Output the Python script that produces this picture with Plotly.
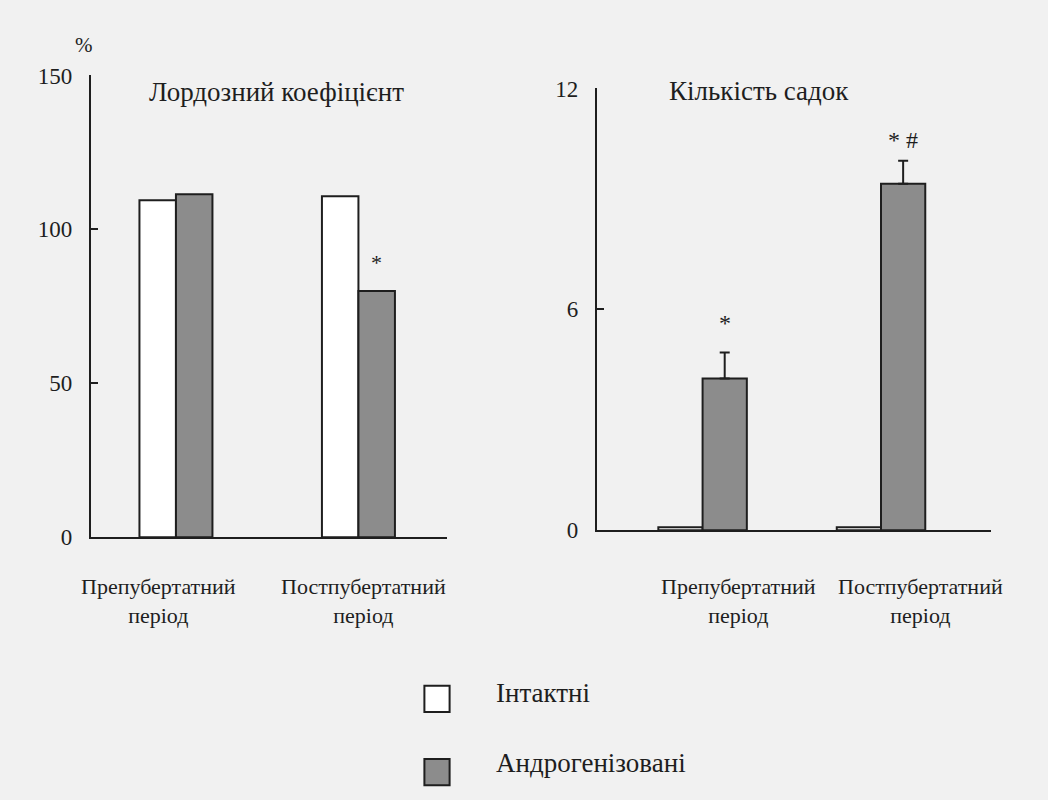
import plotly.graph_objects as go

# ---- data ----
periods = ["Препубертатний<br>період", "Постпубертатний<br>період"]
series_names = ["Інтактні", "Андрогенізовані"]

lordosis_intact = [109.5, 110.8]
lordosis_androgen = [111.4, 80.0]

mounts_intact = [0.08, 0.08]
mounts_androgen = [4.12, 9.41]
mounts_androgen_err = [0.71, 0.63]

left_title = "Лордозний коефіцієнт"
right_title = "Кількість садок"
left_ticks = [0, 50, 100, 150]
right_ticks = [0, 6, 12]
left_marks = ["", "*"]
right_marks = ["*", "* #"]

FONT = "Liberation Serif, Times New Roman, serif"
INK = "#1e1e1e"
GRAY = "#8c8c8c"
BG = "#f1f1f1"

W, H = 1048, 800


def px(x):
    return ((x + 1) / 0.992) / W


def py(y):
    return 1 - ((y - 13.8) / 0.965) / H


fig = go.Figure()

lw, rw = 0.2, 0.248
fig.add_trace(go.Bar(x=periods, y=lordosis_intact, name=series_names[0], width=lw, offset=-lw,
                     marker=dict(color="white", line=dict(color=INK, width=2)),
                     xaxis="x", yaxis="y", showlegend=False))
fig.add_trace(go.Bar(x=periods, y=lordosis_androgen, name=series_names[1], width=lw, offset=0,
                     marker=dict(color=GRAY, line=dict(color=INK, width=2)),
                     xaxis="x", yaxis="y", showlegend=False))
fig.add_trace(go.Bar(x=periods, y=mounts_intact, name=series_names[0], width=rw, offset=-rw,
                     marker=dict(color="white", line=dict(color=INK, width=2)),
                     xaxis="x2", yaxis="y2", showlegend=False))
fig.add_trace(go.Bar(x=periods, y=mounts_androgen, name=series_names[1], width=rw, offset=0,
                     marker=dict(color=GRAY, line=dict(color=INK, width=2)),
                     error_y=dict(type="data", array=mounts_androgen_err, symmetric=False,
                                  arrayminus=[0, 0], color=INK, thickness=2, width=5),
                     xaxis="x2", yaxis="y2", showlegend=False))

axis_common = dict(showline=True, linecolor=INK, linewidth=2, showgrid=False, zeroline=False)
yfont = dict(family=FONT, size=23, color=INK)
xfont = dict(family=FONT, size=22, color=INK)

fig.update_layout(
    width=W, height=H,
    margin=dict(l=0, r=0, t=0, b=0),
    paper_bgcolor=BG, plot_bgcolor="rgba(0,0,0,0)",
    barmode="overlay",
    font=dict(family=FONT, color=INK),
    xaxis=dict(domain=[px(89), px(442)], range=[-0.467, 1.483], anchor="y",
               ticks="", showticklabels=False, **axis_common),
    yaxis=dict(domain=[py(537), py(77)], range=[0, 150], anchor="x",
               tickvals=left_ticks, ticks="inside", ticklen=7, tickwidth=2, tickcolor=INK,
               ticklabelstandoff=12, tickfont=yfont, **axis_common),
    xaxis2=dict(domain=[px(591), px(982)], range=[-0.593, 1.616], anchor="y2",
                ticks="", showticklabels=False, **axis_common),
    yaxis2=dict(domain=[py(530), py(90)], range=[0, 12], anchor="x2",
                tickvals=right_ticks, ticks="inside", ticklen=7, tickwidth=2, tickcolor=INK,
                ticklabelstandoff=12, tickfont=yfont, **axis_common),
)

ann = []
# category labels (placed per panel, as in the original layout)
label_offsets = {"x": [-0.097, 0.03], "x2": [0.203, 0.22]}
for axname, offs in label_offsets.items():
    for i, (lab, o) in enumerate(zip(periods, offs)):
        ann.append(dict(text=lab, x=i + o, y=py(601), xref=axname, yref="paper",
                        xanchor="center", yanchor="middle", showarrow=False,
                        font=xfont))

ann.append(dict(text="%", x=px(82), y=py(47), xref="paper", yref="paper", showarrow=False,
                xanchor="center", yanchor="middle", font=dict(family=FONT, size=21, color=INK)))
ann.append(dict(text=left_title, x=px(273), y=py(93), xref="paper", yref="paper", showarrow=False,
                xanchor="center", yanchor="middle", font=dict(family=FONT, size=27, color=INK)))
ann.append(dict(text=right_title, x=px(752), y=py(92), xref="paper", yref="paper", showarrow=False,
                xanchor="center", yanchor="middle", font=dict(family=FONT, size=27, color=INK)))
for i, m in enumerate(left_marks):
    if m:
        ann.append(dict(text=m, x=i + lw/2, y=lordosis_androgen[i], xref="x", yref="y",
                        yanchor="bottom", yshift=14, showarrow=False,
                        font=dict(family=FONT, size=22, color=INK)))
right_shifts = [14, 6]
for i, m in enumerate(right_marks):
    ann.append(dict(text=m, x=i + rw/2, y=mounts_androgen[i] + mounts_androgen_err[i], xref="x2", yref="y2",
                    yanchor="bottom", yshift=right_shifts[i], showarrow=False,
                    font=dict(family=FONT, size=24, color=INK)))

# legend (manual, large swatches)
legend_rows = [(698, "white", 692), (771, GRAY, 762)]
shapes = []
for (yc, col, yt), name in zip(legend_rows, series_names):
    shapes.append(dict(type="rect", xref="paper", yref="paper",
                       x0=px(420), x1=px(445), y0=py(yc + 13), y1=py(yc - 13),
                       fillcolor=col, line=dict(color=INK, width=2)))
    ann.append(dict(text=name, x=px(489), y=py(yt), xref="paper", yref="paper",
                    xanchor="left", yanchor="middle", showarrow=False,
                    font=dict(family=FONT, size=27, color=INK)))

fig.update_layout(annotations=ann, shapes=shapes)
fig.write_html("out.html",
               config={"displayModeBar": False},
               post_script="document.body.style.margin='0';document.body.style.overflow='hidden';")
